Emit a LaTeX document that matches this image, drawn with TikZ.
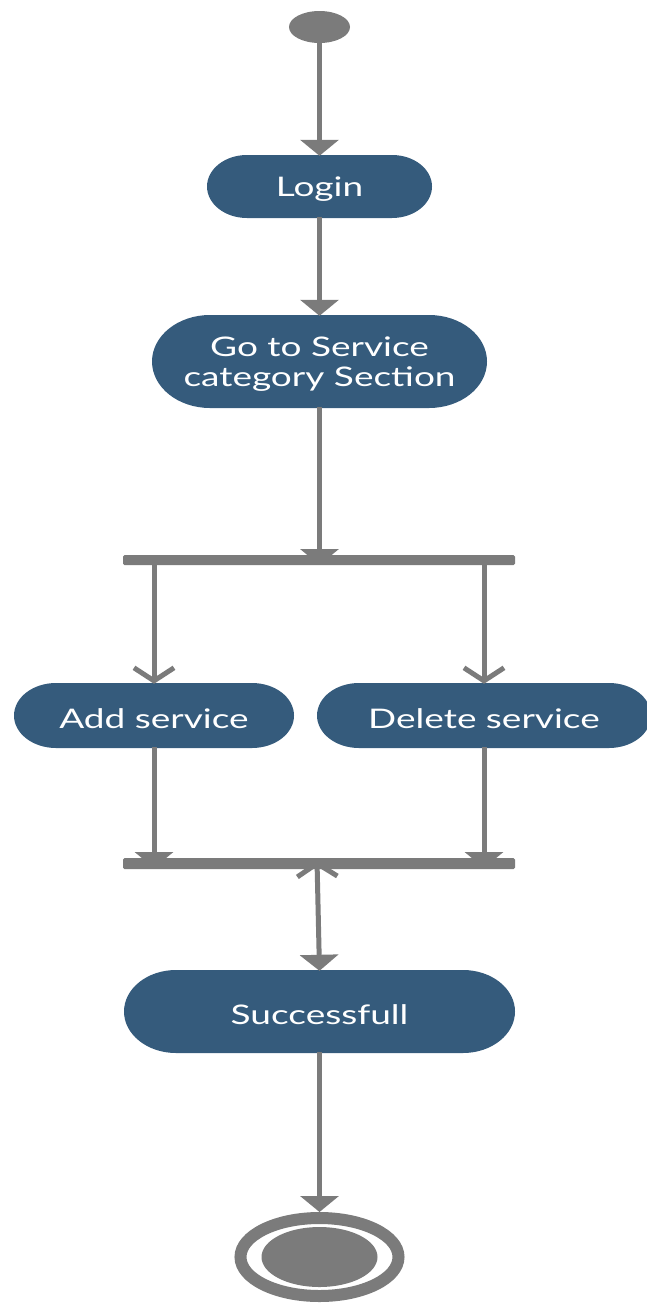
\documentclass[tikz,border=0pt]{standalone}
\usepackage{fontspec}
\setmainfont{Lato}
\newfontfamily\latos[FakeStretch=1.37]{Lato}
\usetikzlibrary{arrows.meta,shapes.geometric,calc}
\definecolor{umlgray}{RGB}{123,123,123}
\definecolor{umlblue}{RGB}{53,91,124}
\newcommand{\pillbg}[5]{%
  \fill[umlblue] ({#1-#3/2+#5},{#2-#4/2}) -- ({#1+#3/2-#5},{#2-#4/2})
    arc[start angle=-90,end angle=90,x radius=#5,y radius=#4/2]
    -- ({#1-#3/2+#5},{#2+#4/2})
    arc[start angle=90,end angle=270,x radius=#5,y radius=#4/2] -- cycle;}
\tikzset{
  ftip/.tip={Triangle[width=38pt,length=16pt]},
  otip/.tip={Straight Barb[width=40pt,length=13pt]},
}
\begin{document}
\begin{tikzpicture}[x=1pt,y=-1pt,
  conn/.style={draw=umlgray,line width=5pt},
  acttext/.style={text=white,font=\latos\fontsize{27pt}{30pt}\selectfont,align=center,inner sep=0pt,yshift=-3pt},
  bar/.style={fill=umlgray,rounded corners=1.5pt,minimum width=392pt,minimum height=10pt,inner sep=0pt},
  dot/.style={ellipse,fill=umlgray,inner sep=0pt}]
\useasboundingbox (0,0) rectangle (647,1307);
% activity backgrounds
\pillbg{319.5}{186.5}{225}{63}{40}
\pillbg{319.5}{361.5}{335}{93}{58}
\pillbg{154}{715.5}{280}{65}{42}
\pillbg{484}{715.5}{334}{65}{42}
\pillbg{319.5}{1011.5}{391}{83}{52}
% nodes
\node[dot,minimum width=61pt,minimum height=32pt] (start) at (319.5,27) {};
\node[acttext,minimum width=225pt,minimum height=63pt] (login) at (319.5,186.5) {Login};
\node[acttext,minimum width=335pt,minimum height=93pt] (goto) at (319.5,361.5) {Go to Service\\category Section};
\node[acttext,minimum width=280pt,minimum height=65pt] (add) at (154,715.5) {Add service};
\node[acttext,minimum width=334pt,minimum height=65pt] (del) at (484,715.5) {Delete service};
\node[acttext,minimum width=391pt,minimum height=83pt] (succ) at (319.5,1011.5) {Successfull};
\node[ellipse,draw=umlgray,line width=12pt,minimum width=158pt,minimum height=78pt,inner sep=0pt] (end) at (319.5,1257) {};
\node[dot,minimum width=116pt,minimum height=60pt] (endin) at (end.center) {};
\coordinate (forkc) at (319,560);
\coordinate (joinc) at (319,863.5);
% connectors
\draw[conn,-ftip] (start.south) -- ([yshift=2pt]login.north);
\draw[conn,-ftip] ([yshift=4pt]login.south) -- ([yshift=2pt]goto.north);
\draw[conn,-ftip] ([yshift=4pt]goto.south) -- (goto.south |- 0,565);
\draw[conn,-otip] (add.north |- forkc) -- ([yshift=2pt]add.north);
\draw[conn,-otip] (del.north |- forkc) -- ([yshift=2pt]del.north);
\draw[conn,-ftip] ([yshift=4pt]add.south) -- (add.south |- 0,868);
\draw[conn,-ftip] ([yshift=4pt]del.south) -- (del.south |- 0,868);
\draw[conn,otip-ftip] ($(joinc)+(-2,-3)$) -- ([yshift=2pt]succ.north);
\draw[conn,-ftip] ([yshift=4pt]succ.south) -- (end.north);
% bars
\node[bar] (fork) at (forkc) {};
\node[bar,minimum height=11pt] (join) at (joinc) {};
\end{tikzpicture}
\end{document}
